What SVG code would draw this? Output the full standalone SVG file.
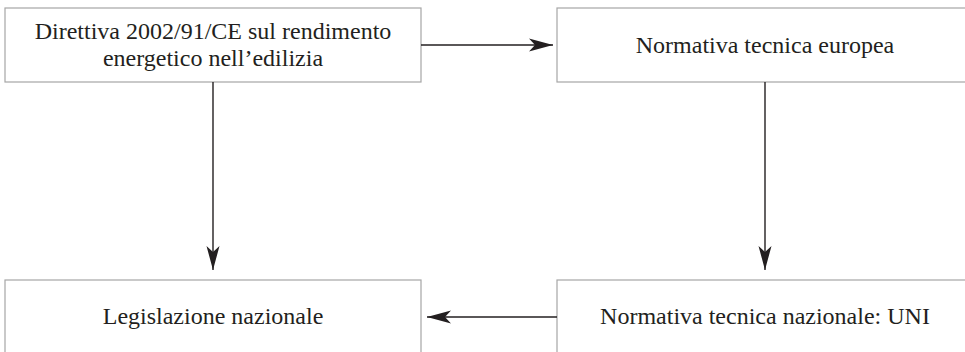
<svg xmlns="http://www.w3.org/2000/svg" width="965" height="352" viewBox="0 0 965 352">
<style>
.box{fill:#fff;stroke:#a6a6a6;stroke-width:1.2}
.t{font-family:"Liberation Serif","Times New Roman",serif;font-size:24px;fill:#231f20;text-anchor:middle}
.c{stroke:#231f20;stroke-width:1.4;fill:none;marker-end:url(#ah)}
</style>
<defs>
<marker id="ah" markerUnits="userSpaceOnUse" markerWidth="30" markerHeight="16" viewBox="-25 -8 30 16" refX="0" refY="0" orient="auto">
<path d="M0,0 L-24,-6.5 L-18,0 L-24,6.5 Z" fill="#231f20"/>
</marker>
</defs>
<rect width="965" height="352" fill="#fff"/>
<g id="direttiva">
<rect class="box" x="5" y="8" width="416" height="74"/>
<text class="t" x="213" y="39">Direttiva 2002/91/CE sul rendimento</text>
<text class="t" x="213" y="66">energetico nell’edilizia</text>
</g>
<g id="normativa-europea">
<rect class="box" x="557" y="8" width="416" height="74"/>
<text class="t" x="765" y="53">Normativa tecnica europea</text>
</g>
<g id="legislazione">
<rect class="box" x="5" y="280" width="416" height="74"/>
<text class="t" x="213" y="324">Legislazione nazionale</text>
</g>
<g id="normativa-uni">
<rect class="box" x="557" y="280" width="416" height="74"/>
<text class="t" x="765" y="324">Normativa tecnica nazionale: UNI</text>
</g>
<g id="connectors">
<path class="c" d="M421,45 H553"/>
<path class="c" d="M213,82 V270"/>
<path class="c" d="M765,82 V270"/>
<path class="c" d="M557,317 H427"/>
</g>
</svg>
